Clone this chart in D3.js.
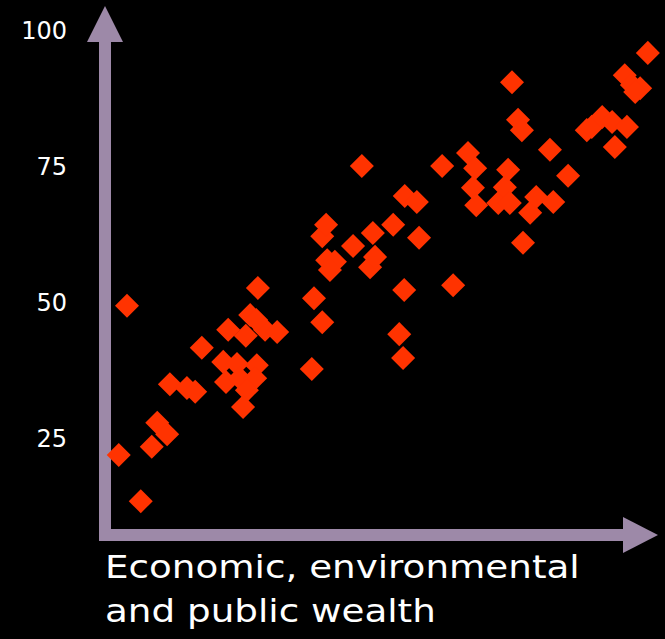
<!DOCTYPE html>
<html>
<head>
<meta charset="utf-8">
<script src="https://cdn.jsdelivr.net/npm/d3@7"></script>
<style>
  html, body { margin: 0; padding: 0; background: #000; }
  svg { display: block; }
</style>
</head>
<body>
<svg id="chart" width="665" height="639"></svg>
<script>
// Wealth index (x) against outcome score (y), one entry per country
const wealth = [
  2.5, 4.0, 6.5, 8.5, 9.5, 11.3, 11.8, 14.9, 16.4, 17.6,
  21.5, 24.0, 27.6, 22.0, 24.5, 27.3, 25.8, 25.1, 22.4, 26.4,
  25.6, 29.1, 31.3, 27.8, 27.5, 37.6, 38.0, 39.5, 39.5, 40.2,
  40.4, 41.8, 40.9, 45.1, 46.7, 48.2, 49.1, 48.7, 52.4, 53.5,
  54.2, 54.4, 54.5, 56.7, 57.1, 61.3, 63.3, 66.0, 67.3, 66.9,
  67.5, 71.5, 72.7, 73.6, 73.3, 74.0, 75.1, 75.8, 76.0, 77.3,
  78.4, 81.5, 80.9, 84.2, 87.6, 88.5, 90.4, 92.2, 94.9, 92.7,
  94.5, 95.8, 97.3, 96.4, 98.7
];
const score = [
  21.8, 49.2, 13.3, 23.3, 27.7, 25.6, 34.8, 34.1, 33.4, 41.5,
  38.9, 38.5, 38.3, 35.2, 35.9, 35.9, 33.7, 30.6, 44.8, 47.5,
  43.7, 44.8, 44.4, 52.5, 46.6, 37.6, 50.6, 46.2, 62.0, 64.1,
  57.6, 57.3, 55.8, 60.2, 74.9, 56.3, 58.2, 62.6, 64.1, 44.0,
  39.6, 52.1, 69.4, 68.3, 61.7, 74.9, 53.0, 77.3, 74.5, 70.9,
  67.7, 68.1, 71.0, 68.1, 74.2, 90.3, 83.4, 81.5, 60.8, 66.3,
  69.2, 68.3, 77.9, 73.1, 81.5, 82.1, 83.9, 83.0, 82.1, 78.4,
  91.6, 89.8, 89.2, 88.5, 95.7
];
const yTicks = [25, 50, 75, 100];
const xTitle = ["Economic, environmental", "and public wealth"];

const axisColor = "#9d89a8";
const markColor = "#ff3300";

const svg = d3.select("#chart");
svg.append("rect").attr("width", 665).attr("height", 639).attr("fill", "#000");

const x = d3.scaleLinear().domain([0, 100]).range([105, 655]);
const y = d3.scaleLinear().domain([0, 100]).range([573.5, 29.5]);

// Arrow-style axes
const axisX = 105, axisY = 535, bar = 12;
const g = svg.append("g").attr("fill", axisColor);
g.append("rect")
  .attr("x", axisX - bar / 2).attr("y", 41)
  .attr("width", bar).attr("height", axisY + bar / 2 - 41);
g.append("polygon")
  .attr("points", [[axisX, 6], [axisX - 18, 42], [axisX + 18, 42]].join(" "));
g.append("rect")
  .attr("x", axisX - bar / 2).attr("y", axisY - bar / 2)
  .attr("width", 624 - (axisX - bar / 2)).attr("height", bar);
g.append("polygon")
  .attr("points", [[658, axisY], [623, axisY - 18], [623, axisY + 18]].join(" "));

// Y tick labels
const yAxis = d3.axisLeft(y).tickValues(yTicks).tickSize(0).tickPadding(3);
const ya = svg.append("g").attr("transform", "translate(70,0)").call(yAxis);
ya.select(".domain").remove();
ya.selectAll("text")
  .attr("fill", "#fff")
  .attr("font-family", "'DejaVu Sans', Verdana, sans-serif")
  .attr("font-size", 24)
  .attr("dy", "0.36em");

// Data points as diamonds
const pts = wealth.map((w, i) => ({ w, s: score[i] }));
const diamond = d3.symbol().type(d3.symbolSquare).size(289);
svg.append("g").selectAll("path")
  .data(pts)
  .join("path")
  .attr("d", diamond)
  .attr("fill", markColor)
  .attr("transform", d => `translate(${x(d.w)},${y(d.s)}) rotate(45)`);

// X axis title, widened to a Verdana-like set width
svg.append("g")
  .attr("transform", "translate(105,0) scale(1.165,1)")
  .append("text")
  .attr("x", 0).attr("y", 578)
  .attr("fill", "#fff")
  .attr("font-family", "'DejaVu Sans', Verdana, sans-serif")
  .attr("font-size", 32)
  .selectAll("tspan")
  .data(xTitle)
  .join("tspan")
  .attr("x", 0)
  .attr("dy", (d, i) => i === 0 ? 0 : 44)
  .text(d => d);
</script>
</body>
</html>
